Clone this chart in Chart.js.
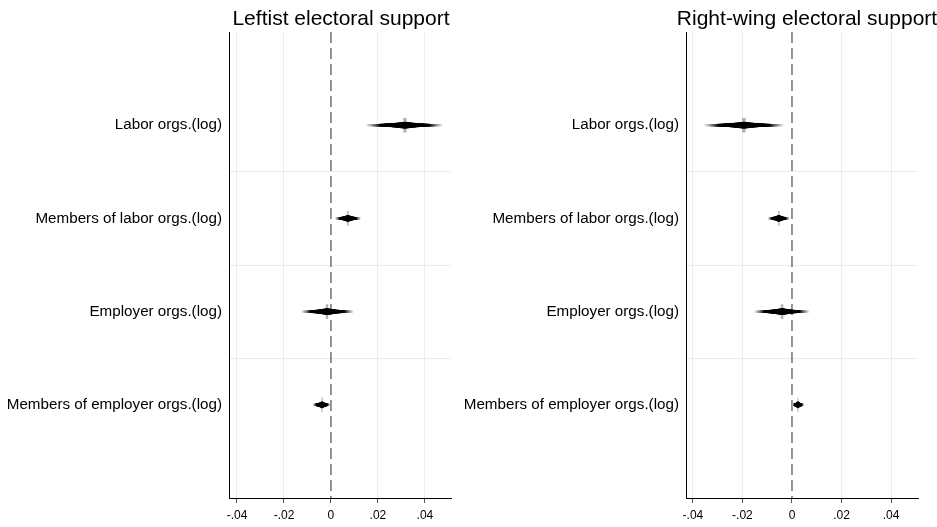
<!DOCTYPE html>
<html>
<head>
<meta charset="utf-8">
<script src="https://cdn.jsdelivr.net/npm/chart.js@4.4.1/dist/chart.umd.min.js"></script>
<style>
  body { margin: 0; background: #fff; }
  .panel { position: absolute; top: 0; }
</style>
</head>
<body>
<div class="panel" style="left:0"><canvas id="leftChart" width="465" height="527"></canvas></div>
<div class="panel" style="left:465px"><canvas id="rightChart" width="472" height="527"></canvas></div>
<script>
// coefficient labels, top to bottom
var categories = ['Labor orgs.(log)', 'Members of labor orgs.(log)', 'Employer orgs.(log)', 'Members of employer orgs.(log)'];

// leftist electoral support: point estimate and outer CI bounds
var leftCoef = [0.0315, 0.0072, -0.0017, -0.0038];
var leftLo   = [0.0153, 0.0020, -0.0123, -0.0075];
var leftHi   = [0.0472, 0.0125, 0.0094, -0.0005];

// right-wing electoral support
var rightCoef = [-0.0194, -0.0053, -0.0040, 0.0024];
var rightLo   = [-0.0352, -0.0095, -0.0150, 0.0002];
var rightHi   = [-0.0036, -0.0012, 0.0068, 0.0047];

var xTicks = [-0.04, -0.02, 0, 0.02, 0.04];
var xTickLabels = ['-.04', '-.02', '0', '.02', '.04'];
var refLine = 0;

var FONT = "'Liberation Sans', Arial, sans-serif";

// panel title drawn over the plot, centred on a given x (canvas px)
var panelTitle = {
    id: 'panelTitle',
    afterDraw: function(chart, args, opts) {
        var ctx = chart.ctx;
        ctx.save();
        ctx.font = '21px ' + FONT;
        ctx.fillStyle = '#000';
        ctx.textAlign = 'center';
        ctx.textBaseline = 'alphabetic';
        ctx.fillText(opts.text, opts.centerX, 25);
        ctx.restore();
    }
};

// smooth CI: nested intervals, thicker and darker toward the estimate
var buildDatasets = function(coef, lo, hi) {
    var sets = [];
    var N = 24;
    // innermost spike first so it is drawn on top
    sets.push({
        type: 'bar', indexAxis: 'y', grouped: false, barThickness: 14,
        backgroundColor: 'rgba(0,0,0,0.3)', borderWidth: 0,
        data: coef.map(function(c, i) {
            return { y: i + 1, x: [c - 0.035 * (c - lo[i]), c + 0.035 * (hi[i] - c)] };
        })
    });
    for (var j = 1; j <= N; j++) {
        var t = j / N;
        var g = t < 0.68 ? 0 : Math.round(222 * Math.pow((t - 0.68) / 0.32, 0.8));
        sets.push({
            type: 'bar', indexAxis: 'y', grouped: false,
            barThickness: 1.6 + 5.0 * Math.pow(1 - t, 2.2),
            backgroundColor: 'rgb(' + g + ',' + g + ',' + g + ')',
            borderWidth: 0,
            data: coef.map(function(c, i) {
                return { y: i + 1, x: [c - t * (c - lo[i]), c + t * (hi[i] - c)] };
            })
        });
    }
    // dashed reference line at zero, drawn underneath
    sets.push({
        type: 'line',
        data: [{ x: refLine, y: 0 }, { x: refLine, y: 5 }],
        borderColor: '#7a7a7a', borderWidth: 1.6, borderDash: [11, 5],
        pointRadius: 0, fill: false
    });
    return sets;
};

var makeChart = function(id, title, titleX, coef, lo, hi, xmin, xmax, yWidth, padRight) {
    return new Chart(document.getElementById(id), {
        type: 'bar',
        data: { datasets: buildDatasets(coef, lo, hi) },
        plugins: [panelTitle],
        options: {
            responsive: false,
            animation: false,
            devicePixelRatio: 1,
            layout: { padding: { left: 0, right: padRight, top: 32, bottom: 0 } },
            plugins: {
                legend: { display: false },
                tooltip: { enabled: false },
                title: { display: false },
                panelTitle: { text: title, centerX: titleX }
            },
            scales: {
                x: {
                    type: 'linear', min: xmin, max: xmax, offset: false,
                    afterBuildTicks: function(scale) {
                        scale.ticks = xTicks.map(function(v) { return { value: v }; });
                    },
                    afterFit: function(scale) { scale.height = 29; },
                    ticks: {
                        color: '#000', font: { family: FONT, size: 12 }, padding: 5,
                        callback: function(v, i) { return xTickLabels[i]; }
                    },
                    grid: {
                        offset: false,
                        color: function(ctx) { return ctx.tick && ctx.tick.value === 0 ? 'rgba(0,0,0,0)' : '#ececec'; },
                        tickColor: '#555', tickLength: 5
                    },
                    border: { color: '#000', width: 1 }
                },
                y: {
                    type: 'linear', min: 0, max: 5, reverse: true, offset: false,
                    afterBuildTicks: function(scale) {
                        scale.ticks = [1, 2, 3, 4].map(function(v) { return { value: v }; });
                    },
                    afterFit: function(scale) { scale.width = yWidth; },
                    ticks: {
                        color: '#000', font: { family: FONT, size: 15.2 }, padding: 7,
                        callback: function(v) { return categories[v - 1]; }
                    },
                    grid: { display: false, drawTicks: false, offset: false },
                    border: { color: '#000', width: 1 }
                },
                ysep: {
                    type: 'linear', position: 'right', min: 0, max: 5, reverse: true, offset: false,
                    afterBuildTicks: function(scale) {
                        scale.ticks = [1.5, 2.5, 3.5].map(function(v) { return { value: v }; });
                    },
                    afterFit: function(scale) { scale.width = 0; },
                    ticks: { display: false },
                    grid: { color: '#ebebeb', drawTicks: false },
                    border: { display: false }
                }
            }
        }
    });
};

makeChart('leftChart', 'Leftist electoral support', 341, leftCoef, leftLo, leftHi, -0.0434, 0.0511, 229, 14);
makeChart('rightChart', 'Right-wing electoral support', 342, rightCoef, rightLo, rightHi, -0.0428, 0.0509, 221, 19);
</script>
</body>
</html>
